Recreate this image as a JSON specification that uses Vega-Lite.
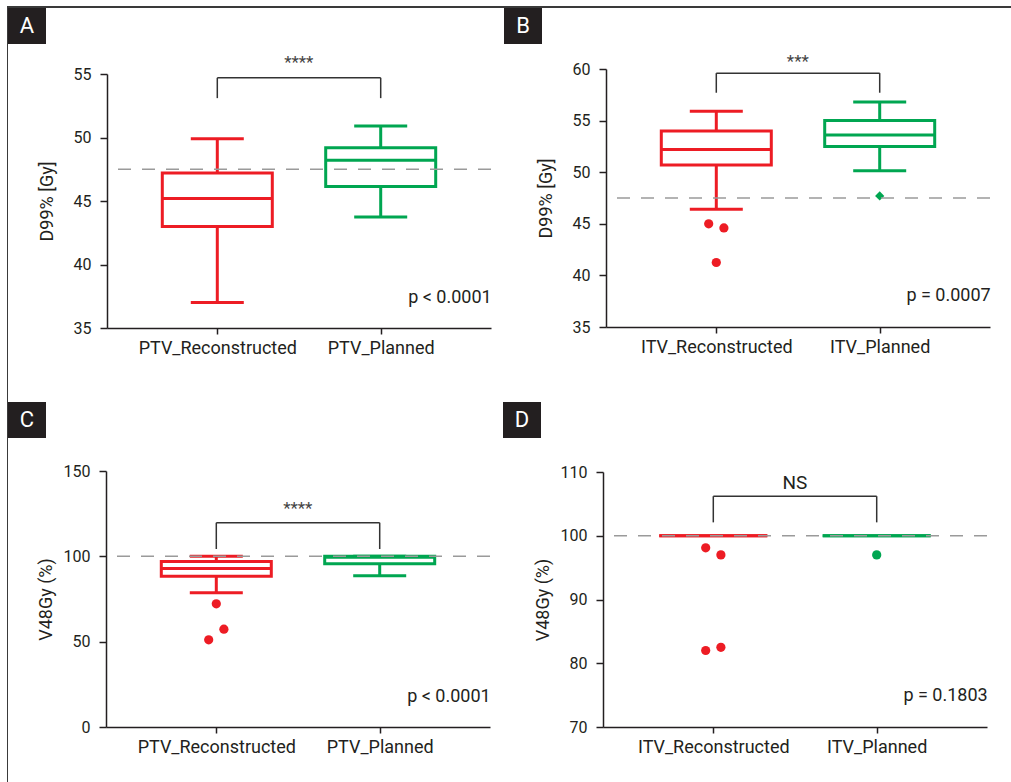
{
  "$schema": "https://vega.github.io/schema/vega-lite/v6.json",
  "background": "white",
  "padding": {"left": 7, "top": 6, "right": 0, "bottom": 0},
  "spacing": 0,
  "datasets": {
    "A_box": [
      {"group": "PTV_Reconstructed", "arm": "R", "lo": 37.0, "q1": 43.0, "med": 45.2, "q3": 47.2, "hi": 49.9},
      {"group": "PTV_Planned", "arm": "P", "lo": 43.75, "q1": 46.15, "med": 48.2, "q3": 49.2, "hi": 50.9}
    ],
    "A_br": [
      {"group": "PTV_Reconstructed", "top": 54.7, "foot": 53.1},
      {"group": "PTV_Planned", "top": 54.7, "foot": 53.1}
    ],
    "A_star": [{"group": "PTV_Reconstructed", "ys": 55.9, "s": "****"}],
    "A_p": [{"group": "PTV_Planned", "yp": 37.4, "p": "p < 0.0001"}],
    "A_ref": [{"ref": 47.5}],
    "B_box": [
      {"group": "ITV_Reconstructed", "arm": "R", "lo": 46.4, "q1": 50.7, "med": 52.2, "q3": 54.0, "hi": 55.9},
      {"group": "ITV_Planned", "arm": "P", "lo": 50.15, "q1": 52.5, "med": 53.6, "q3": 55.0, "hi": 56.8}
    ],
    "B_out": [
      {"group": "ITV_Reconstructed", "arm": "R", "v": 45.0, "jit": -1},
      {"group": "ITV_Reconstructed", "arm": "R", "v": 44.6, "jit": 1},
      {"group": "ITV_Reconstructed", "arm": "R", "v": 41.25, "jit": 0},
      {"group": "ITV_Planned", "arm": "P", "v": 47.7, "jit": 0}
    ],
    "B_br": [
      {"group": "ITV_Reconstructed", "top": 59.6, "foot": 57.7},
      {"group": "ITV_Planned", "top": 59.6, "foot": 57.7}
    ],
    "B_star": [{"group": "ITV_Reconstructed", "ys": 60.65, "s": "***"}],
    "B_p": [{"group": "ITV_Planned", "yp": 37.96, "p": "p = 0.0007"}],
    "B_ref": [{"ref": 47.5}],
    "C_box": [
      {"group": "PTV_Reconstructed", "arm": "R", "lo": 78.6, "q1": 88.4, "med": 92.9, "q3": 97.0, "hi": 100},
      {"group": "PTV_Planned", "arm": "P", "lo": 88.6, "q1": 95.7, "med": 99.4, "q3": 100, "hi": 100}
    ],
    "C_out": [
      {"group": "PTV_Reconstructed", "arm": "R", "v": 72.2, "jit": 0},
      {"group": "PTV_Reconstructed", "arm": "R", "v": 57.3, "jit": 1},
      {"group": "PTV_Reconstructed", "arm": "R", "v": 51.1, "jit": -1}
    ],
    "C_br": [
      {"group": "PTV_Reconstructed", "top": 119.7, "foot": 104.3},
      {"group": "PTV_Planned", "top": 119.7, "foot": 104.3}
    ],
    "C_star": [{"group": "PTV_Reconstructed", "ys": 127.7, "s": "****"}],
    "C_p": [{"group": "PTV_Planned", "yp": 17.6, "p": "p < 0.0001"}],
    "C_ref": [{"ref": 100}],
    "D_box": [
      {"group": "ITV_Reconstructed", "arm": "R", "lo": 100, "q1": 100, "med": 100, "q3": 100, "hi": 100},
      {"group": "ITV_Planned", "arm": "P", "lo": 100, "q1": 100, "med": 100, "q3": 100, "hi": 100}
    ],
    "D_out": [
      {"group": "ITV_Reconstructed", "arm": "R", "v": 98.1, "jit": -1},
      {"group": "ITV_Reconstructed", "arm": "R", "v": 97.0, "jit": 1},
      {"group": "ITV_Reconstructed", "arm": "R", "v": 82.0, "jit": -1},
      {"group": "ITV_Reconstructed", "arm": "R", "v": 82.5, "jit": 1},
      {"group": "ITV_Planned", "arm": "P", "v": 97.0, "jit": 0}
    ],
    "D_br": [
      {"group": "ITV_Reconstructed", "top": 106.2, "foot": 102.1},
      {"group": "ITV_Planned", "top": 106.2, "foot": 102.1}
    ],
    "D_star": [{"group": "ITV_Reconstructed", "ys": 108.2, "s": "NS"}],
    "D_p": [{"group": "ITV_Planned", "yp": 74.8, "p": "p = 0.1803"}],
    "D_ref": [{"ref": 100}]
  },
  "vconcat": [
    {"width": 1004, "height": 2, "view": {"fill": "#3a3a3a", "stroke": null}, "data": {"values": []}, "mark": {"type": "point", "opacity": 0}, "encoding": {}},
    {
      "spacing": 0,
      "hconcat": [
        {"width": 1, "height": 774, "view": {"fill": "#3a3a3a", "stroke": null}, "data": {"values": []}, "mark": {"type": "point", "opacity": 0}, "encoding": {}},
        {
          "spacing": 45,
          "vconcat": [
            {
              "spacing": 12,
              "hconcat": [
                {
                  "columns": 2,
                  "align": "each",
                  "spacing": {"row": 9, "column": -8},
                  "concat": [
                    {"width": 38, "height": 36, "view": {"fill": "#231F20", "stroke": null}, "data": {"values": [{"t": "A"}]}, "mark": {"type": "text", "color": "white", "fontSize": 22, "baseline": "middle"}, "encoding": {"text": {"field": "t", "type": "nominal"}}},
                    {"width": 1, "height": 1, "data": {"values": []}, "mark": {"type": "point", "opacity": 0}, "encoding": {}},
                    {"width": 1, "height": 1, "data": {"values": []}, "mark": {"type": "point", "opacity": 0}, "encoding": {}},
                    {
                      "width": 384, "height": 254,
                      "layer": [
                        {"data": {"name": "A_box"}, "mark": {"type": "rule", "strokeWidth": 3}, "encoding": {
                          "x": {"field": "group", "type": "nominal", "scale": {"type": "point", "padding": 0.675, "domain": ["PTV_Reconstructed", "PTV_Planned"]}, "axis": {"title": null}},
                          "y": {"field": "lo", "type": "quantitative", "scale": {"domain": [35, 55], "nice": false, "zero": false}, "axis": {"values": [35, 40, 45, 50, 55], "title": "D99% [Gy]"}},
                          "y2": {"field": "q1"},
                          "color": {"field": "arm", "type": "nominal", "scale": {"domain": ["R", "P"], "range": ["#ED1C24", "#00A651"]}, "legend": null}}},
                        {"data": {"name": "A_box"}, "mark": {"type": "rule", "strokeWidth": 3}, "encoding": {"x": {"field": "group", "type": "nominal"}, "y": {"field": "q3", "type": "quantitative"}, "y2": {"field": "hi"}, "color": {"field": "arm", "type": "nominal", "legend": null}}},
                        {"data": {"name": "A_box"}, "mark": {"type": "bar", "size": 110, "fill": "white", "strokeWidth": 3}, "encoding": {"x": {"field": "group", "type": "nominal"}, "y": {"field": "q1", "type": "quantitative"}, "y2": {"field": "q3"}, "stroke": {"field": "arm", "type": "nominal", "scale": {"domain": ["R", "P"], "range": ["#ED1C24", "#00A651"]}, "legend": null}}},
                        {"data": {"name": "A_box"}, "mark": {"type": "tick", "size": 110, "thickness": 3, "opacity": 1}, "encoding": {"x": {"field": "group", "type": "nominal"}, "y": {"field": "med", "type": "quantitative"}, "color": {"field": "arm", "type": "nominal", "legend": null}}},
                        {"data": {"name": "A_box"}, "mark": {"type": "tick", "size": 53, "thickness": 3, "opacity": 1}, "encoding": {"x": {"field": "group", "type": "nominal"}, "y": {"field": "lo", "type": "quantitative"}, "color": {"field": "arm", "type": "nominal", "legend": null}}},
                        {"data": {"name": "A_box"}, "mark": {"type": "tick", "size": 53, "thickness": 3, "opacity": 1}, "encoding": {"x": {"field": "group", "type": "nominal"}, "y": {"field": "hi", "type": "quantitative"}, "color": {"field": "arm", "type": "nominal", "legend": null}}},
                        {"data": {"name": "A_ref"}, "mark": {"type": "rule", "color": "#9a9a9a", "strokeWidth": 1.5, "strokeDash": [13, 11]}, "encoding": {"y": {"field": "ref", "type": "quantitative"}}},
                        {"data": {"name": "A_br"}, "mark": {"type": "line", "color": "#333333", "strokeWidth": 1.5, "clip": false}, "encoding": {"x": {"field": "group", "type": "nominal"}, "y": {"field": "top", "type": "quantitative"}}},
                        {"data": {"name": "A_br"}, "mark": {"type": "rule", "color": "#333333", "strokeWidth": 1.5, "clip": false}, "encoding": {"x": {"field": "group", "type": "nominal"}, "y": {"field": "foot", "type": "quantitative"}, "y2": {"field": "top"}}},
                        {"data": {"name": "A_star"}, "mark": {"type": "text", "color": "#444444", "fontSize": 17, "dx": 81.5, "baseline": "middle", "clip": false}, "encoding": {"x": {"field": "group", "type": "nominal"}, "y": {"field": "ys", "type": "quantitative"}, "text": {"field": "s"}}},
                        {"data": {"name": "A_p"}, "mark": {"type": "text", "color": "#231F20", "fontSize": 18, "dx": 111, "align": "right", "baseline": "middle"}, "encoding": {"x": {"field": "group", "type": "nominal"}, "y": {"field": "yp", "type": "quantitative"}, "text": {"field": "p"}}}
                      ]
                    }
                  ]
                },
                {
                  "columns": 2,
                  "align": "each",
                  "spacing": {"row": 9, "column": -5},
                  "concat": [
                    {"width": 38, "height": 36, "view": {"fill": "#231F20", "stroke": null}, "data": {"values": [{"t": "B"}]}, "mark": {"type": "text", "color": "white", "fontSize": 22, "baseline": "middle"}, "encoding": {"text": {"field": "t", "type": "nominal"}}},
                    {"width": 1, "height": 1, "data": {"values": []}, "mark": {"type": "point", "opacity": 0}, "encoding": {}},
                    {"width": 1, "height": 1, "data": {"values": []}, "mark": {"type": "point", "opacity": 0}, "encoding": {}},
                    {
                      "width": 384, "height": 258,
                      "layer": [
                        {"data": {"name": "B_box"}, "mark": {"type": "rule", "strokeWidth": 3}, "encoding": {
                          "x": {"field": "group", "type": "nominal", "scale": {"type": "point", "padding": 0.675, "domain": ["ITV_Reconstructed", "ITV_Planned"]}, "axis": {"title": null}},
                          "y": {"field": "lo", "type": "quantitative", "scale": {"domain": [35, 60], "nice": false, "zero": false}, "axis": {"values": [35, 40, 45, 50, 55, 60], "title": "D99% [Gy]"}},
                          "y2": {"field": "q1"},
                          "color": {"field": "arm", "type": "nominal", "scale": {"domain": ["R", "P"], "range": ["#ED1C24", "#00A651"]}, "legend": null}}},
                        {"data": {"name": "B_box"}, "mark": {"type": "rule", "strokeWidth": 3}, "encoding": {"x": {"field": "group", "type": "nominal"}, "y": {"field": "q3", "type": "quantitative"}, "y2": {"field": "hi"}, "color": {"field": "arm", "type": "nominal", "legend": null}}},
                        {"data": {"name": "B_box"}, "mark": {"type": "bar", "size": 110, "fill": "white", "strokeWidth": 3}, "encoding": {"x": {"field": "group", "type": "nominal"}, "y": {"field": "q1", "type": "quantitative"}, "y2": {"field": "q3"}, "stroke": {"field": "arm", "type": "nominal", "scale": {"domain": ["R", "P"], "range": ["#ED1C24", "#00A651"]}, "legend": null}}},
                        {"data": {"name": "B_box"}, "mark": {"type": "tick", "size": 110, "thickness": 3, "opacity": 1}, "encoding": {"x": {"field": "group", "type": "nominal"}, "y": {"field": "med", "type": "quantitative"}, "color": {"field": "arm", "type": "nominal", "legend": null}}},
                        {"data": {"name": "B_box"}, "mark": {"type": "tick", "size": 53, "thickness": 3, "opacity": 1}, "encoding": {"x": {"field": "group", "type": "nominal"}, "y": {"field": "lo", "type": "quantitative"}, "color": {"field": "arm", "type": "nominal", "legend": null}}},
                        {"data": {"name": "B_box"}, "mark": {"type": "tick", "size": 53, "thickness": 3, "opacity": 1}, "encoding": {"x": {"field": "group", "type": "nominal"}, "y": {"field": "hi", "type": "quantitative"}, "color": {"field": "arm", "type": "nominal", "legend": null}}},
                        {"data": {"name": "B_out"}, "mark": {"type": "point", "filled": true, "opacity": 1, "size": 85}, "encoding": {"x": {"field": "group", "type": "nominal"}, "xOffset": {"field": "jit", "type": "quantitative", "scale": {"domain": [-1, 1], "range": [-7.6, 7.6]}}, "y": {"field": "v", "type": "quantitative"}, "color": {"field": "arm", "type": "nominal", "legend": null}, "shape": {"field": "arm", "type": "nominal", "scale": {"domain": ["R", "P"], "range": ["circle", "diamond"]}, "legend": null}}},
                        {"data": {"name": "B_ref"}, "mark": {"type": "rule", "color": "#9a9a9a", "strokeWidth": 1.5, "strokeDash": [13, 11]}, "encoding": {"y": {"field": "ref", "type": "quantitative"}}},
                        {"data": {"name": "B_br"}, "mark": {"type": "line", "color": "#333333", "strokeWidth": 1.5, "clip": false}, "encoding": {"x": {"field": "group", "type": "nominal"}, "y": {"field": "top", "type": "quantitative"}}},
                        {"data": {"name": "B_br"}, "mark": {"type": "rule", "color": "#333333", "strokeWidth": 1.5, "clip": false}, "encoding": {"x": {"field": "group", "type": "nominal"}, "y": {"field": "foot", "type": "quantitative"}, "y2": {"field": "top"}}},
                        {"data": {"name": "B_star"}, "mark": {"type": "text", "color": "#444444", "fontSize": 17, "dx": 81.5, "baseline": "middle", "clip": false}, "encoding": {"x": {"field": "group", "type": "nominal"}, "y": {"field": "ys", "type": "quantitative"}, "text": {"field": "s"}}},
                        {"data": {"name": "B_p"}, "mark": {"type": "text", "color": "#231F20", "fontSize": 18, "dx": 111, "align": "right", "baseline": "middle"}, "encoding": {"x": {"field": "group", "type": "nominal"}, "y": {"field": "yp", "type": "quantitative"}, "text": {"field": "p"}}}
                      ]
                    }
                  ]
                }
              ]
            },
            {
              "spacing": 12,
              "hconcat": [
                {
                  "columns": 2,
                  "align": "each",
                  "spacing": {"row": 25, "column": -9},
                  "concat": [
                    {"width": 38, "height": 36, "view": {"fill": "#231F20", "stroke": null}, "data": {"values": [{"t": "C"}]}, "mark": {"type": "text", "color": "white", "fontSize": 22, "baseline": "middle"}, "encoding": {"text": {"field": "t", "type": "nominal"}}},
                    {"width": 1, "height": 1, "data": {"values": []}, "mark": {"type": "point", "opacity": 0}, "encoding": {}},
                    {"width": 1, "height": 1, "data": {"values": []}, "mark": {"type": "point", "opacity": 0}, "encoding": {}},
                    {
                      "width": 384, "height": 256,
                      "layer": [
                        {"data": {"name": "C_box"}, "mark": {"type": "rule", "strokeWidth": 3}, "encoding": {
                          "x": {"field": "group", "type": "nominal", "scale": {"type": "point", "padding": 0.675, "domain": ["PTV_Reconstructed", "PTV_Planned"]}, "axis": {"title": null}},
                          "y": {"field": "lo", "type": "quantitative", "scale": {"domain": [0, 150], "nice": false, "zero": false}, "axis": {"values": [0, 50, 100, 150], "title": "V48Gy (%)", "titlePadding": 8}},
                          "y2": {"field": "q1"},
                          "color": {"field": "arm", "type": "nominal", "scale": {"domain": ["R", "P"], "range": ["#ED1C24", "#00A651"]}, "legend": null}}},
                        {"data": {"name": "C_box"}, "mark": {"type": "rule", "strokeWidth": 3}, "encoding": {"x": {"field": "group", "type": "nominal"}, "y": {"field": "q3", "type": "quantitative"}, "y2": {"field": "hi"}, "color": {"field": "arm", "type": "nominal", "legend": null}}},
                        {"data": {"name": "C_box"}, "mark": {"type": "bar", "size": 110, "fill": "white", "strokeWidth": 3}, "encoding": {"x": {"field": "group", "type": "nominal"}, "y": {"field": "q1", "type": "quantitative"}, "y2": {"field": "q3"}, "stroke": {"field": "arm", "type": "nominal", "scale": {"domain": ["R", "P"], "range": ["#ED1C24", "#00A651"]}, "legend": null}}},
                        {"data": {"name": "C_box"}, "mark": {"type": "tick", "size": 110, "thickness": 3, "opacity": 1}, "encoding": {"x": {"field": "group", "type": "nominal"}, "y": {"field": "med", "type": "quantitative"}, "color": {"field": "arm", "type": "nominal", "legend": null}}},
                        {"data": {"name": "C_box"}, "mark": {"type": "tick", "size": 53, "thickness": 3, "opacity": 1}, "encoding": {"x": {"field": "group", "type": "nominal"}, "y": {"field": "lo", "type": "quantitative"}, "color": {"field": "arm", "type": "nominal", "legend": null}}},
                        {"data": {"name": "C_box"}, "mark": {"type": "tick", "size": 53, "thickness": 3, "opacity": 1}, "encoding": {"x": {"field": "group", "type": "nominal"}, "y": {"field": "hi", "type": "quantitative"}, "color": {"field": "arm", "type": "nominal", "legend": null}}},
                        {"data": {"name": "C_out"}, "mark": {"type": "point", "filled": true, "opacity": 1, "size": 85, "shape": "circle"}, "encoding": {"x": {"field": "group", "type": "nominal"}, "xOffset": {"field": "jit", "type": "quantitative", "scale": {"domain": [-1, 1], "range": [-7.7, 7.7]}}, "y": {"field": "v", "type": "quantitative"}, "color": {"field": "arm", "type": "nominal", "legend": null}}},
                        {"data": {"name": "C_ref"}, "mark": {"type": "rule", "color": "#9a9a9a", "strokeWidth": 1.5, "strokeDash": [13, 11]}, "encoding": {"y": {"field": "ref", "type": "quantitative"}}},
                        {"data": {"name": "C_br"}, "mark": {"type": "line", "color": "#333333", "strokeWidth": 1.5, "clip": false}, "encoding": {"x": {"field": "group", "type": "nominal"}, "y": {"field": "top", "type": "quantitative"}}},
                        {"data": {"name": "C_br"}, "mark": {"type": "rule", "color": "#333333", "strokeWidth": 1.5, "clip": false}, "encoding": {"x": {"field": "group", "type": "nominal"}, "y": {"field": "foot", "type": "quantitative"}, "y2": {"field": "top"}}},
                        {"data": {"name": "C_star"}, "mark": {"type": "text", "color": "#444444", "fontSize": 17, "dx": 81.5, "baseline": "middle", "clip": false}, "encoding": {"x": {"field": "group", "type": "nominal"}, "y": {"field": "ys", "type": "quantitative"}, "text": {"field": "s"}}},
                        {"data": {"name": "C_p"}, "mark": {"type": "text", "color": "#231F20", "fontSize": 18, "dx": 111, "align": "right", "baseline": "middle"}, "encoding": {"x": {"field": "group", "type": "nominal"}, "y": {"field": "yp", "type": "quantitative"}, "text": {"field": "p"}}}
                      ]
                    }
                  ]
                },
                {
                  "columns": 2,
                  "align": "each",
                  "spacing": {"row": 26, "column": -7},
                  "concat": [
                    {"width": 38, "height": 36, "view": {"fill": "#231F20", "stroke": null}, "data": {"values": [{"t": "D"}]}, "mark": {"type": "text", "color": "white", "fontSize": 22, "baseline": "middle"}, "encoding": {"text": {"field": "t", "type": "nominal"}}},
                    {"width": 1, "height": 1, "data": {"values": []}, "mark": {"type": "point", "opacity": 0}, "encoding": {}},
                    {"width": 1, "height": 1, "data": {"values": []}, "mark": {"type": "point", "opacity": 0}, "encoding": {}},
                    {
                      "width": 384, "height": 255,
                      "layer": [
                        {"data": {"name": "D_box"}, "mark": {"type": "rule", "strokeWidth": 3}, "encoding": {
                          "x": {"field": "group", "type": "nominal", "scale": {"type": "point", "padding": 0.675, "domain": ["ITV_Reconstructed", "ITV_Planned"]}, "axis": {"title": null}},
                          "y": {"field": "lo", "type": "quantitative", "scale": {"domain": [70, 110], "nice": false, "zero": false}, "axis": {"values": [70, 80, 90, 100, 110], "title": "V48Gy (%)", "titlePadding": 8}},
                          "y2": {"field": "q1"},
                          "color": {"field": "arm", "type": "nominal", "scale": {"domain": ["R", "P"], "range": ["#ED1C24", "#00A651"]}, "legend": null}}},
                        {"data": {"name": "D_box"}, "mark": {"type": "bar", "size": 108, "fill": "white", "strokeWidth": 3}, "encoding": {"x": {"field": "group", "type": "nominal"}, "y": {"field": "q1", "type": "quantitative"}, "y2": {"field": "q3"}, "stroke": {"field": "arm", "type": "nominal", "scale": {"domain": ["R", "P"], "range": ["#ED1C24", "#00A651"]}, "legend": null}}},
                        {"data": {"name": "D_box"}, "mark": {"type": "tick", "size": 108, "thickness": 3, "opacity": 1}, "encoding": {"x": {"field": "group", "type": "nominal"}, "y": {"field": "med", "type": "quantitative"}, "color": {"field": "arm", "type": "nominal", "legend": null}}},
                        {"data": {"name": "D_out"}, "mark": {"type": "point", "filled": true, "opacity": 1, "size": 85, "shape": "circle"}, "encoding": {"x": {"field": "group", "type": "nominal"}, "xOffset": {"field": "jit", "type": "quantitative", "scale": {"domain": [-1, 1], "range": [-7.7, 7.7]}}, "y": {"field": "v", "type": "quantitative"}, "color": {"field": "arm", "type": "nominal", "legend": null}}},
                        {"data": {"name": "D_ref"}, "mark": {"type": "rule", "color": "#9a9a9a", "strokeWidth": 1.5, "strokeDash": [13, 11]}, "encoding": {"y": {"field": "ref", "type": "quantitative"}}},
                        {"data": {"name": "D_br"}, "mark": {"type": "line", "color": "#333333", "strokeWidth": 1.5, "clip": false}, "encoding": {"x": {"field": "group", "type": "nominal"}, "y": {"field": "top", "type": "quantitative"}}},
                        {"data": {"name": "D_br"}, "mark": {"type": "rule", "color": "#333333", "strokeWidth": 1.5, "clip": false}, "encoding": {"x": {"field": "group", "type": "nominal"}, "y": {"field": "foot", "type": "quantitative"}, "y2": {"field": "top"}}},
                        {"data": {"name": "D_star"}, "mark": {"type": "text", "color": "#231F20", "fontSize": 19, "dx": 81.5, "baseline": "middle", "clip": false}, "encoding": {"x": {"field": "group", "type": "nominal"}, "y": {"field": "ys", "type": "quantitative"}, "text": {"field": "s"}}},
                        {"data": {"name": "D_p"}, "mark": {"type": "text", "color": "#231F20", "fontSize": 18, "dx": 111, "align": "right", "baseline": "middle"}, "encoding": {"x": {"field": "group", "type": "nominal"}, "y": {"field": "yp", "type": "quantitative"}, "text": {"field": "p"}}}
                      ]
                    }
                  ]
                }
              ]
            }
          ]
        }
      ]
    }
  ],
  "config": {
    "font": "Roboto",
    "view": {"stroke": null},
    "axis": {"domainColor": "#231F20", "tickColor": "#231F20", "labelColor": "#231F20", "titleColor": "#231F20", "domainWidth": 1.5, "tickWidth": 1.5, "grid": false, "labelFont": "Roboto", "titleFont": "Roboto", "titleFontWeight": "normal"},
    "axisX": {"labelFontSize": 18, "tickSize": 6, "labelAngle": 0, "labelPadding": 5},
    "axisY": {"labelFontSize": 16, "tickSize": 7, "labelPadding": 9, "titleFontSize": 18, "titlePadding": 17}
  }
}
